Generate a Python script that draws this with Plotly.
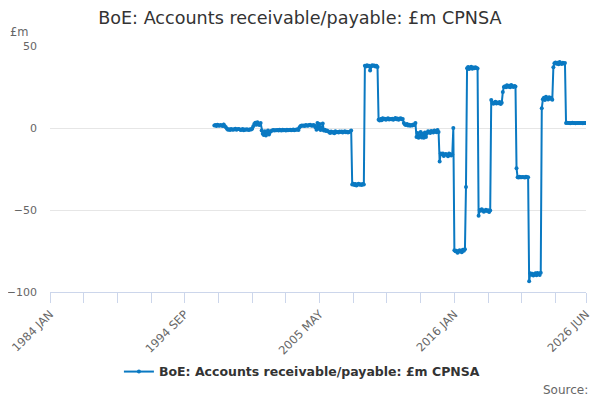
import pandas as pd
import plotly.graph_objects as go

series_name = "BoE: Accounts receivable/payable: £m CPNSA"
start_month = "1997-01-01"

# monthly values (one row per year)
values = (
    [1.5, 1.8, 1.2, 2.0, 1.6, 1.4, 1.9, 1.5, 1.2, 2.2, 1.0, 0.5] +            # 1997
    [-0.5, -1.0, -0.8, -1.2, -0.6, -0.9, -1.1, -0.7, -0.5, -1.0, -0.8, -0.6] +  # 1998
    [-0.8, -1.2, -1.0, -0.6, -1.3, -0.9, -1.1, -0.8, -1.0, -1.2, -0.7, -0.9] +  # 1999
    [-0.5, 1.0, 2.5, 3.2, 2.0, 3.5, 2.2, 1.8, 3.0, -1.5, -3.5, -4.2] +          # 2000
    [-2.0, -4.5, -3.0, -1.5, -4.0, -2.5, -1.8, -1.5, -1.2, -1.6, -1.3, -1.4] +  # 2001
    [-1.2, -1.5, -1.0, -1.3, -1.6, -1.1, -1.4, -1.2, -1.5, -1.0, -1.3, -1.2] +  # 2002
    [-1.0, -1.4, -1.2, -0.9, -1.3, -1.1, -1.0, -0.8, -1.2, 0.5, 1.2, 1.5] +     # 2003
    [1.3, 1.6, 1.2, 1.8, 1.5, 1.4, 1.9, 2.0, 1.6, 1.4, 1.8, 1.5] +              # 2004
    [0.5, -1.0, 3.0, -0.5, 2.5, -1.2, 0.0, 2.8, -1.5, -1.0, -1.8, -1.5] +       # 2005
    [-2.0, -2.5, -3.0, -2.2, -2.8, -2.5, -3.2, -2.0, -2.6, -2.4, -2.8, -2.2] +  # 2006
    [-2.5, -2.2, -2.8, -2.4, -2.0, -2.6, -2.3, -2.7, -2.5, -2.1, -1.5, -34.5] + # 2007
    [-34.0, -34.8, -34.2, -35.0, -34.5, -34.0, -34.6, -34.3, -34.8, -34.1, -34.5, 38.0] +  # 2008
    [37.5, 38.2, 37.8, 38.0, 35.0, 37.6, 38.3, 37.9, 38.1, 37.5, 38.0, 37.2] +  # 2009
    [5.0, 4.6, 5.5, 4.8, 6.0, 5.3, 5.7, 5.0, 5.5, 5.9, 5.2, 5.5] +              # 2010
    [5.3, 5.7, 5.0, 5.5, 6.1, 5.4, 5.8, 5.1, 5.6, 5.9, 5.3, 5.5] +              # 2011
    [3.0, 2.2, 1.8, 2.5, 1.5, 2.0, 1.3, 1.8, 1.5, 2.2, 1.8, 3.0] +              # 2012
    [-5.5, -3.0, -6.0, -5.0, -2.5, -5.8, -3.5, -6.0, -2.8, -5.5, -3.2, -2.0] +  # 2013
    [-2.5, -3.0, -1.8, -2.2, -2.8, -1.5, -2.0, -2.6, -1.2, -2.4, -20.5, -15.5] +  # 2014
    [-16.0, -15.5, -17.0, -16.2, -15.8, -16.5, -17.2, -15.6, -16.0, -16.8, -16.2, 0.0] +  # 2015
    [-74.5, -75.2, -74.8, -76.0, -75.5, -74.6, -75.0, -75.8, -74.2, -74.8, -74.0, -36.0] +  # 2016
    [36.5, 37.2, 36.0, 36.8, 37.4, 36.2, 36.9, 36.4, 37.0, 36.6, 36.3, -53.5] +  # 2017
    [-50.0, -50.5, -49.6, -50.2, -51.0, -50.4, -49.8, -50.6, -50.1, -51.2, -50.3, 17.0] +  # 2018
    [15.2, 14.8, 15.6, 16.0, 14.9, 15.5, 15.1, 15.8, 14.7, 15.4, 22.0, 25.0] +  # 2019
    [25.5, 24.8, 26.0, 25.2, 25.8, 24.9, 26.2, 25.4, 25.0, 25.6, 25.3, -24.5] +  # 2020
    [-30.0, -30.2, -29.8, -30.0, -30.1, -29.9, -30.0, -30.2, -29.8, -30.0, -30.1, -93.5] +  # 2021
    [-88.5, -89.5, -88.8, -90.0, -89.2, -88.6, -89.8, -88.4, -89.0, -89.6, -88.2, 12.0] +  # 2022
    [17.5, 18.5, 17.0, 19.0, 18.2, 17.4, 18.8, 17.8, 18.4, 17.2, 37.0, 39.5] +  # 2023
    [40.0, 39.2, 39.8, 38.8, 40.2, 39.5, 39.0, 39.8, 39.4, 39.6, 3.0, 3.2] +    # 2024
    [3.0, 3.1, 2.9, 3.0, 3.2, 3.0, 3.1, 2.9, 3.0, 3.1, 3.0, 3.0] +              # 2025
    [3.1, 3.0, 2.9, 3.0, 3.1, 3.0]                                              # 2026
)

axis_start = "1984-01-01"
axis_end = "2026-06-01"
labelled_ticks = ["1984-01-01", "1994-09-01", "2005-05-01", "2016-01-01", "2026-06-01"]
labelled_text = ["1984 JAN", "1994 SEP", "2005 MAY", "2016 JAN", "2026 JUN"]
y_ticks = [-100, -50, 0, 50]

dates = pd.date_range(start_month, periods=len(values), freq="MS")

minor = list(pd.date_range(axis_start, axis_end, freq="32MS"))
tick_dates = sorted(set([d.strftime("%Y-%m-%d") for d in minor] + labelled_ticks))
tick_text = [labelled_text[labelled_ticks.index(t)] if t in labelled_ticks else "" for t in tick_dates]

color = "#0a79c2"
FONT = "DejaVu Sans"

fig = go.Figure()
fig.add_trace(go.Scatter(
    x=dates, y=values, mode="lines+markers", name="<b>" + series_name + "</b>",
    line=dict(color=color, width=2),
    marker=dict(color=color, size=4),
))

# page body has an 8px margin, so the figure is 592x392 and offset by 8px
fig.update_layout(
    width=592, height=392,
    paper_bgcolor="white", plot_bgcolor="white",
    margin=dict(l=42, r=14, t=38, b=108),
    font=dict(family=FONT, color="#666666", size=11),
    title=dict(text="BoE: Accounts receivable/payable: £m CPNSA", x=0.493, xanchor="center",
               xref="container", y=0.974, yanchor="middle",
               font=dict(size=17.6, color="#333333", family=FONT)),
    showlegend=True,
    legend=dict(orientation="h", x=0.47, xanchor="center", y=-0.325, yanchor="middle",
                font=dict(size=12.5, color="#333333", family=FONT)),
    xaxis=dict(
        type="date", range=[axis_start, axis_end], automargin=False,
        tickmode="array", tickvals=tick_dates, ticktext=tick_text, tickangle=-45,
        showgrid=False, showline=True, linecolor="#ccd6eb", linewidth=1,
        ticks="outside", ticklen=10, tickcolor="#ccd6eb",
        tickfont=dict(size=11.5, color="#666666"), zeroline=False,
    ),
    yaxis=dict(
        range=[-100, 50], tickmode="array", tickvals=y_ticks, automargin=False,
        showgrid=True, gridcolor="#e6e6e6", zeroline=False, showline=False,
        tickfont=dict(size=11, color="#666666"), ticks="", ticklabelstandoff=12,
    ),
    annotations=[
        dict(text="£m", xref="paper", yref="paper", x=-0.056, y=1.057,
             xanchor="center", yanchor="middle", showarrow=False,
             font=dict(size=11.5, color="#666666")),
        dict(text="Source:", xref="paper", yref="paper", x=1.0075, y=-0.398,
             xanchor="right", yanchor="middle", showarrow=False,
             font=dict(size=12, color="#666666")),
    ],
)

fig.write_html("out.html")
